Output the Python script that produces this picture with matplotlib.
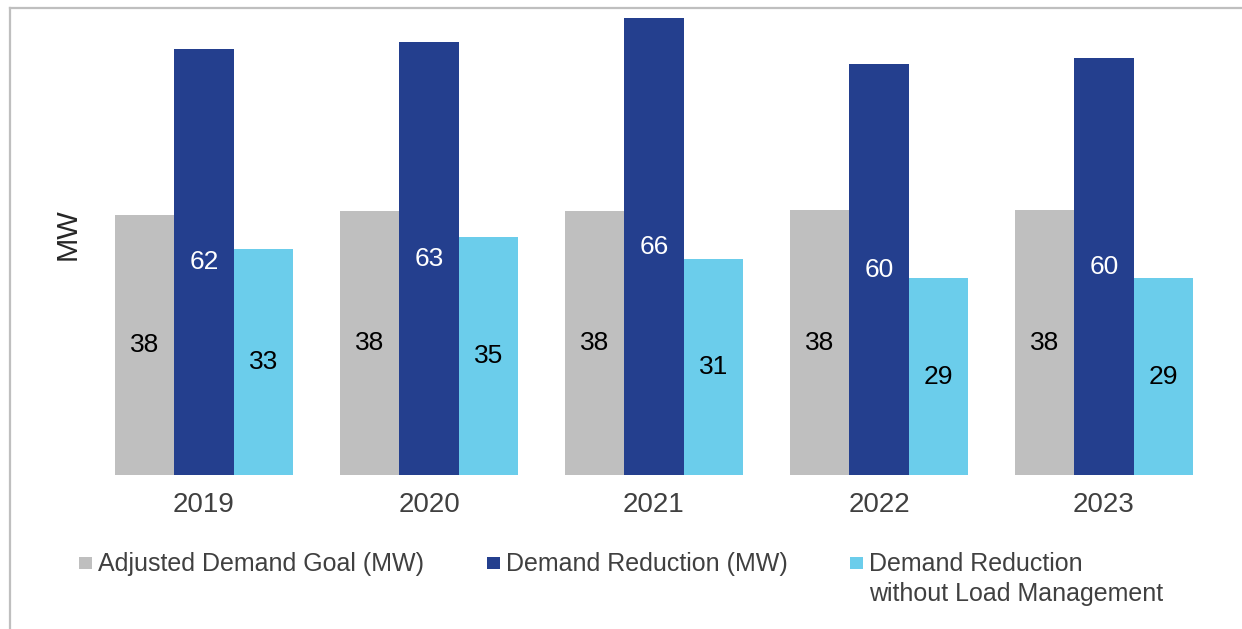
import matplotlib.pyplot as plt
import numpy as np
from matplotlib.lines import Line2D
from matplotlib.patches import Rectangle

plt.rcParams['font.family'] = ['Liberation Sans', 'DejaVu Sans']

# values (bar heights) and the labels printed on them
years = ['2019', '2020', '2021', '2022', '2023']
goal = [37.9, 38.5, 38.5, 38.6, 38.6]
reduction = [62.1, 63.1, 66.6, 59.9, 60.8]
reduction_no_lm = [32.9, 34.7, 31.5, 28.7, 28.7]
goal_labels = ['38', '38', '38', '38', '38']
reduction_labels = ['62', '63', '66', '60', '60']
no_lm_labels = ['33', '35', '31', '29', '29']

series_names = ['Adjusted Demand Goal (MW)', 'Demand Reduction (MW)',
                'Demand Reduction\nwithout Load Management']
colors = ['#BFBFBF', '#243F8E', '#6BCDEB']
label_colors = ['black', 'white', 'black']

W, H = 1242, 629
fig = plt.figure(figsize=(W / 100, H / 100), dpi=100)

# plot area in pixels: x 91.5..1216.5, y 10..475
ax = fig.add_axes([91.5 / W, (H - 475) / H, 1125 / W, 465 / H])
x = np.arange(len(years))
bw = 0.265

all_vals = [goal, reduction, reduction_no_lm]
all_labels = [goal_labels, reduction_labels, no_lm_labels]
for i in range(3):
    bars = ax.bar(x + (i - 1) * bw, all_vals[i], bw, color=colors[i], linewidth=0)
    ax.bar_label(bars, labels=all_labels[i], label_type='center',
                 color=label_colors[i], fontsize=19)

ax.set_xlim(-0.5, len(years) - 0.5)
ax.set_ylim(0, 67.8)
ax.set_xticks(x)
ax.set_xticklabels(years, fontsize=20, color='#404040')
ax.tick_params(axis='x', length=0, pad=12)
ax.set_yticks([])
for s in ax.spines.values():
    s.set_visible(False)

fig.text(68 / W, 1 - 234 / H, 'MW', rotation=90, fontsize=21, color='#262626',
         ha='center', va='center')

# legend drawn by hand so the marker lines up with the first text line
legend_x = [79, 487, 850]
for i in range(3):
    fig.add_artist(Rectangle((legend_x[i] / W, 1 - 569 / H), 13 / W, 12 / H,
                             transform=fig.transFigure, color=colors[i], lw=0))
    fig.text((legend_x[i] + 19) / W, 1 - 552 / H, series_names[i], fontsize=18,
             color='#404040', ha='left', va='top', linespacing=1.3)

# frame of the original slide, visible on the top and left only
fig.add_artist(Line2D([10 / W, 10 / W], [0, 1 - 8 / H], transform=fig.transFigure,
                      color='#BFBFBF', lw=1.6))
fig.add_artist(Line2D([10 / W, 1], [1 - 8 / H, 1 - 8 / H], transform=fig.transFigure,
                      color='#BFBFBF', lw=1.6))

fig.savefig('out.png', dpi=100)
